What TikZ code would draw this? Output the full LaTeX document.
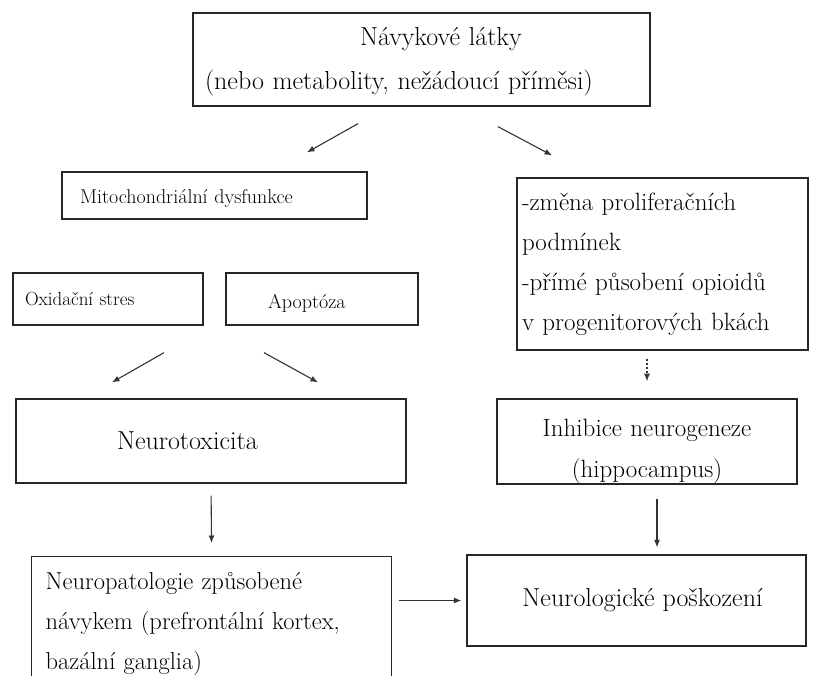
\documentclass[tikz,border=0pt]{standalone}
\usetikzlibrary{arrows.meta}
\tikzset{
  box/.style={draw=black!85, line width=1.3pt, inner ysep=0pt, align=left},
  arr/.style={-{Latex[length=7.5pt,width=6pt]}, black!80, line width=1.1pt},
}
\begin{document}
\begin{tikzpicture}[x=1pt, y=-1pt]
\useasboundingbox (0,0) rectangle (816,675);
\clip (0,0) rectangle (816,675);

\node [box, minimum width=457pt, minimum height=93pt, inner xsep=12pt, text width=433pt, text height=23pt, font=\fontsize{26}{44}\selectfont] (latky) at (421.5,59.5) {\hspace*{155pt}Návykové látky\\(nebo metabolity, nežádoucí příměsi)};

\node [box, minimum width=305pt, minimum height=47pt, inner xsep=18pt, text width=269pt, text height=16pt, text depth=0pt, font=\fontsize{20}{24}\selectfont] (mito) at (214.5,195.5) {Mitochondriální dysfunkce};
\node [box, minimum width=190pt, minimum height=52pt, inner xsep=12pt, text width=166pt, font=\fontsize{19}{23}\selectfont] (oxid) at (108,299) {Oxidační stres};
\node [box, minimum width=192pt, minimum height=52pt, inner xsep=42pt, text width=108pt, text height=18pt, text depth=0pt, font=\fontsize{20}{24}\selectfont] (apop) at (322,299) {Apoptóza};

\node [box, minimum width=291pt, minimum height=172pt, inner xsep=5pt, text width=281pt, font=\fontsize{25}{40}\selectfont] (prolif) at (662.5,264) {-změna proliferačních\\podmínek\\-přímé působení opioidů\\v progenitorových bkách};

\node [box, minimum width=390pt, minimum height=84pt, inner xsep=101pt, text width=188pt, font=\fontsize{26}{30}\selectfont] (neurotox) at (211,441) {Neurotoxicita};
\node [box, minimum width=300pt, minimum height=85pt, inner xsep=10pt, text width=280pt, text height=38pt, align=center, font=\fontsize{25}{41}\selectfont] (inhib) at (647,441.5) {Inhibice neurogeneze\\(hippocampus)};

\node [box, anchor=north west, minimum width=360pt, inner xsep=14pt, inner ysep=16pt, text width=332pt, font=\fontsize{24.5}{40}\selectfont] (neuropat) at (31,556) {Neuropatologie způsobené\\návykem (prefrontální kortex,\\bazální ganglia)};
\node [box, minimum width=339pt, minimum height=91pt, align=center, font=\fontsize{26}{30}\selectfont] (neurol) at (636.5,600.5) {\hspace*{12pt}Neurologické poškození};

\draw [arr] ([shift={(-63.5,17)}]latky.south) -- ([shift={(92.5,-19)}]mito.north);
\draw [arr] ([shift={(76.5,20)}]latky.south) -- ([shift={(-110.5,-22)}]prolif.north);
\draw [arr] ([shift={(56,27)}]oxid.south) -- ([shift={(-99,-16)}]neurotox.north);
\draw [arr] ([shift={(-58,27)}]apop.south) -- ([shift={(107,-16)}]neurotox.north);
\draw [arr, dash pattern=on 2pt off 2pt, shorten <=8pt, shorten >=17pt] (inhib.north |- prolif.south) -- (inhib.north);
\draw [arr, shorten <=12pt, shorten >=13pt] (neurotox.south) -- (neuropat.north);
\draw [arr, shorten <=14pt, shorten >=7pt] ([shift={(10,0)}]inhib.south) -- ([shift={(10,0)}]inhib.south |- neurol.north);
\draw [arr, shorten <=7pt, shorten >=5pt] (neurol.west -| neuropat.east) -- (neurol.west);

\end{tikzpicture}
\end{document}
